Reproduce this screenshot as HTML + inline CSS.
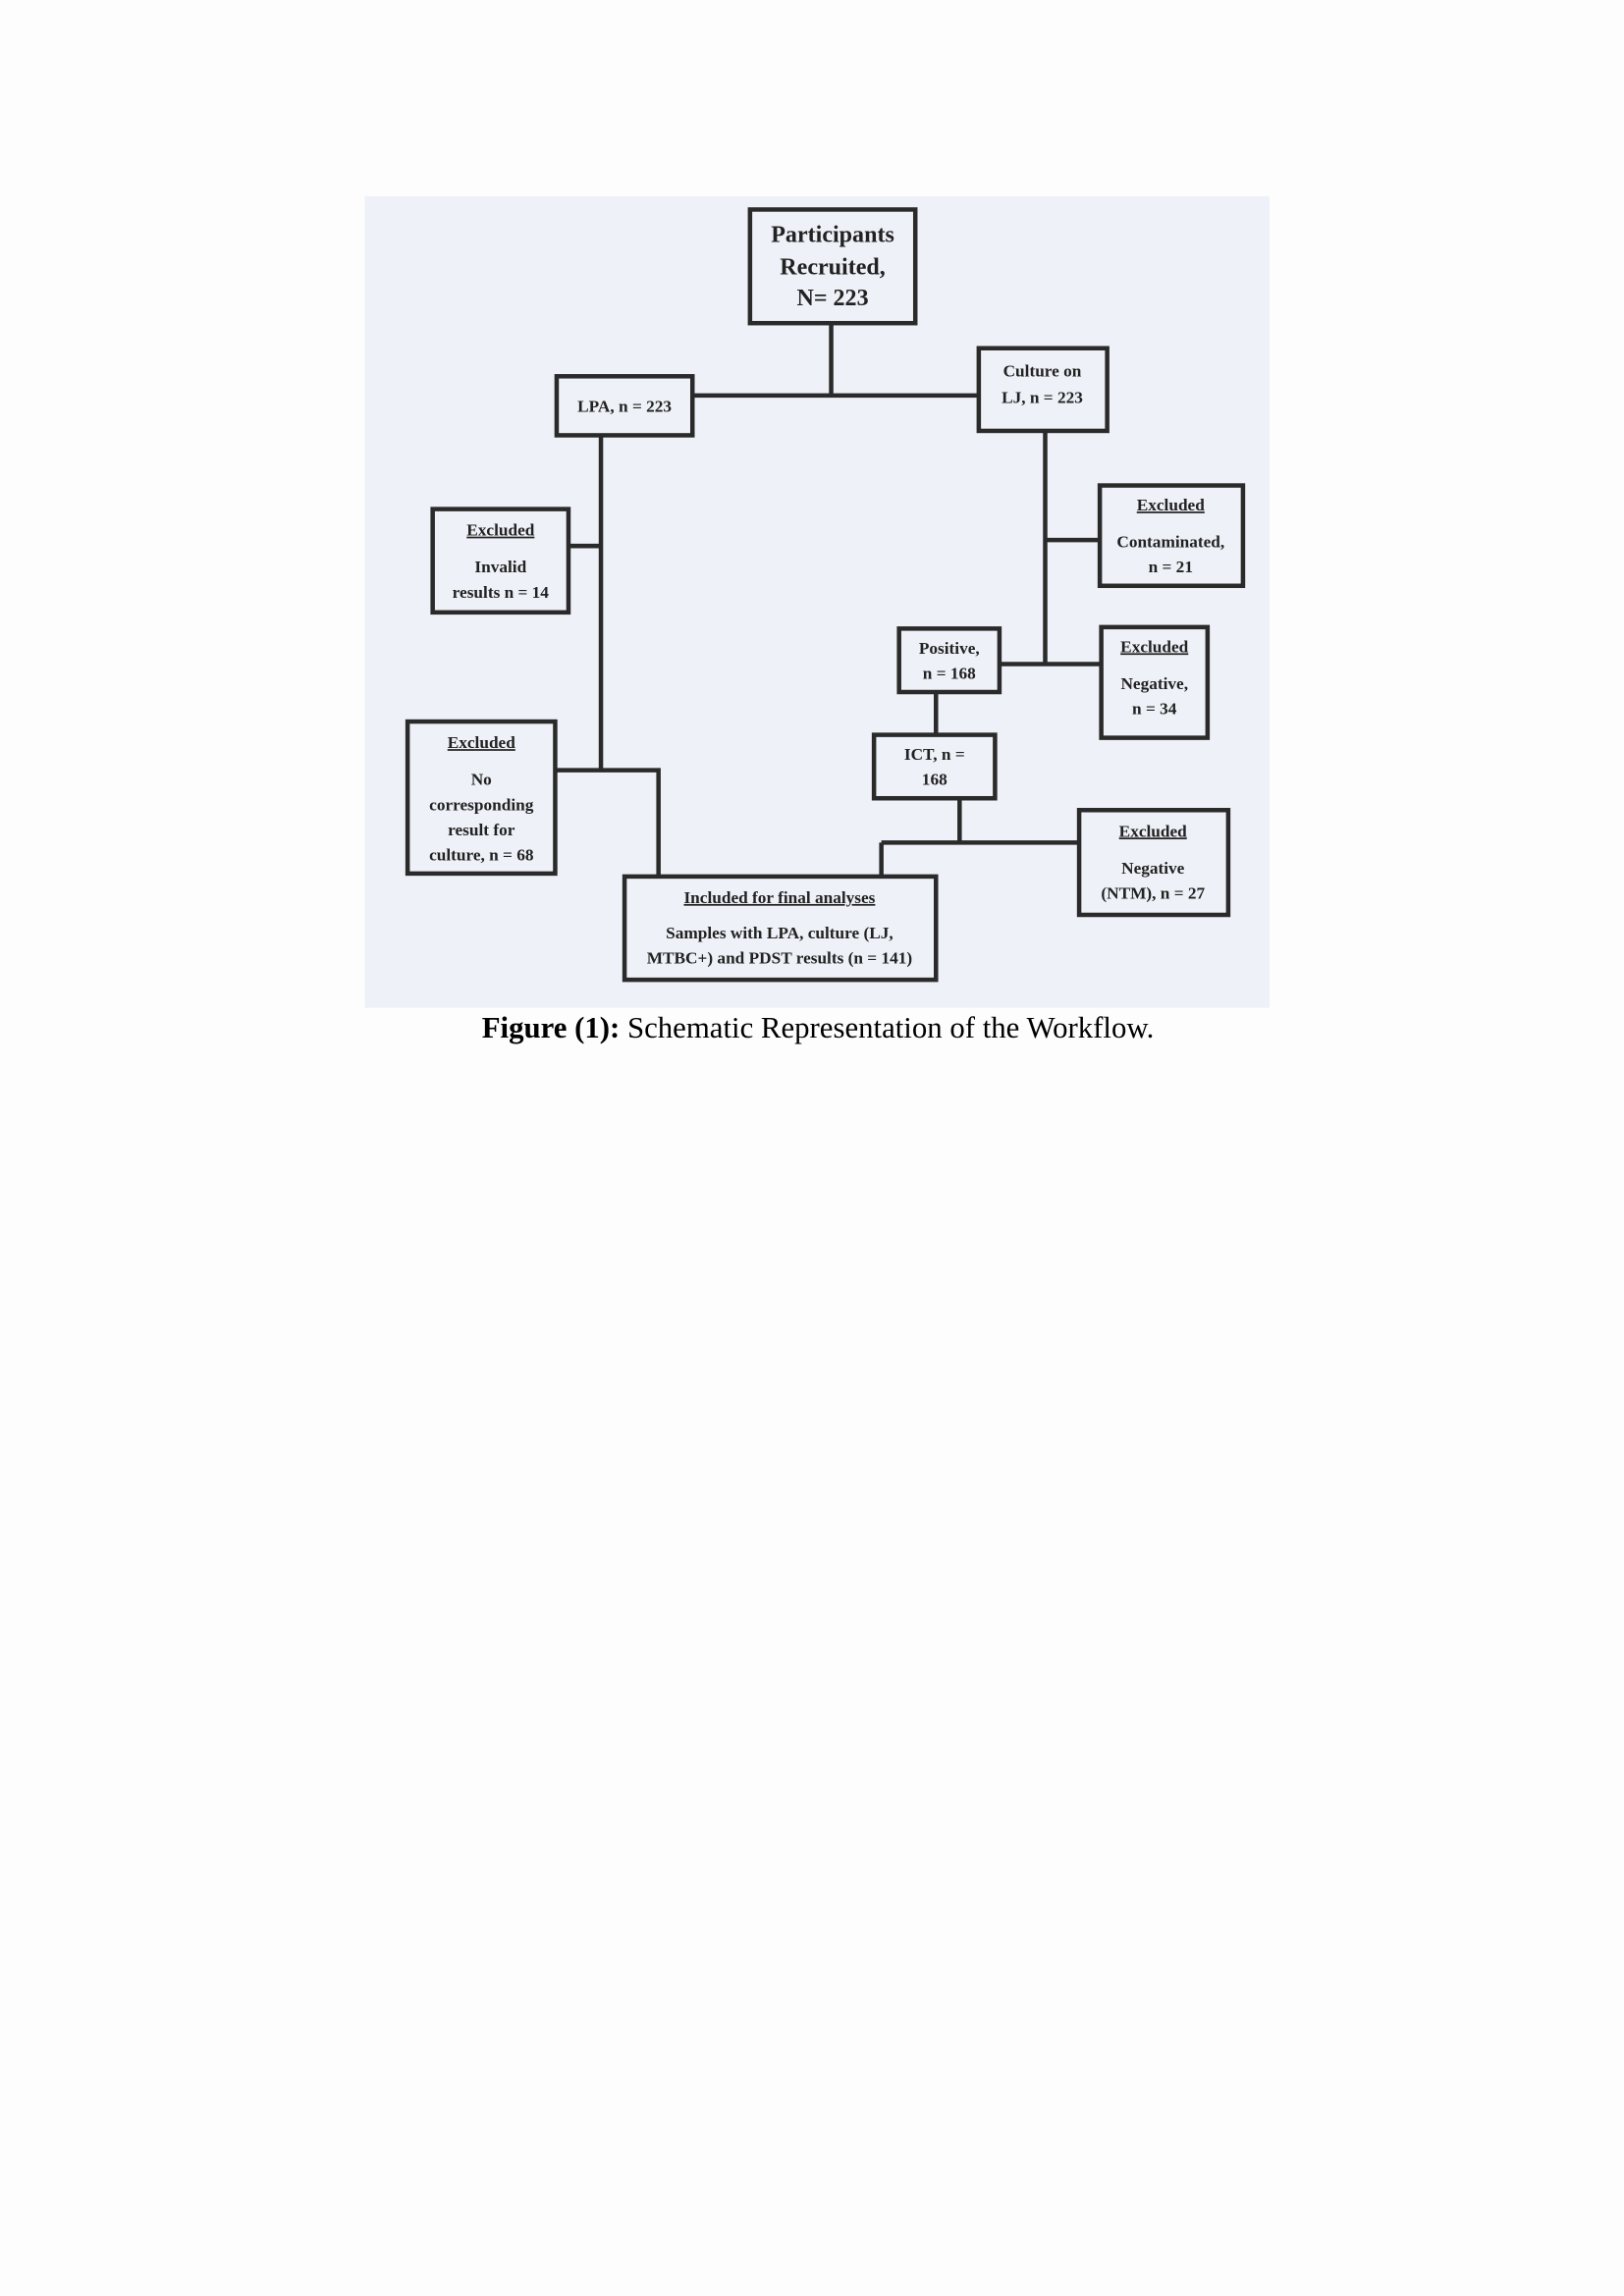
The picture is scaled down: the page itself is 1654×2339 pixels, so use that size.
<!DOCTYPE html>
<html><head><meta charset="utf-8"><style>
html,body{margin:0;padding:0;background:#fdfdfd;}
svg{display:block;}
text{font-family:"Liberation Serif",serif;fill:#222;}
.b{font-weight:bold;font-size:11.5px;}
.big{font-size:16px;}
.u{text-decoration:underline;}
</style></head><body>
<svg width="1654" height="2339" viewBox="0 0 1100 1556" xmlns="http://www.w3.org/2000/svg">
<rect x="0" y="0" width="1100" height="1556" fill="#fdfdfd"/>
<rect x="247" y="133" width="613" height="550" fill="#eef1f7"/>
<g stroke="#2a2a2a" stroke-width="3" fill="none">
<rect x="508" y="142" width="112" height="77"/>
<rect x="377" y="255" width="92" height="40"/>
<rect x="663" y="236" width="87" height="56"/>
<rect x="293" y="345" width="92" height="70"/>
<rect x="276" y="489" width="100" height="103"/>
<rect x="745" y="329" width="97" height="68"/>
<rect x="609" y="426" width="68" height="43"/>
<rect x="746" y="425" width="72" height="75"/>
<rect x="592" y="498" width="82" height="43"/>
<rect x="731" y="549" width="101" height="71"/>
<rect x="423" y="594" width="211" height="70"/>
<path d="M563 219V268M469 268H663M407 295V522M385 370H407M376 522H446V594M708 292V450M708 366H745M677 450H746M634 469V498M650 541V571M597 571H731M597 571V594"/>
</g>
<g text-anchor="middle">
<text class="b big" x="564" y="164">Participants</text>
<text class="b big" x="564" y="186">Recruited,</text>
<text class="b big" x="564" y="207">N= 223</text>
<text class="b" x="423" y="279">LPA, n = 223</text>
<text class="b" x="706" y="255">Culture on</text>
<text class="b" x="706" y="273">LJ, n = 223</text>
<text class="b u" x="339" y="363">Excluded</text>
<text class="b" x="339" y="388">Invalid</text>
<text class="b" x="339" y="405">results n = 14</text>
<text class="b u" x="326" y="507">Excluded</text>
<text class="b" x="326" y="532">No</text>
<text class="b" x="326" y="549">corresponding</text>
<text class="b" x="326" y="566">result for</text>
<text class="b" x="326" y="583">culture, n = 68</text>
<text class="b u" x="793" y="346">Excluded</text>
<text class="b" x="793" y="371">Contaminated,</text>
<text class="b" x="793" y="388">n = 21</text>
<text class="b" x="643" y="443">Positive,</text>
<text class="b" x="643" y="460">n = 168</text>
<text class="b u" x="782" y="442">Excluded</text>
<text class="b" x="782" y="467">Negative,</text>
<text class="b" x="782" y="484">n = 34</text>
<text class="b" x="633" y="515">ICT, n =</text>
<text class="b" x="633" y="532">168</text>
<text class="b u" x="781" y="567">Excluded</text>
<text class="b" x="781" y="592">Negative</text>
<text class="b" x="781" y="609">(NTM), n = 27</text>
<text class="b u" x="528" y="612">Included for final analyses</text>
<text class="b" x="528" y="636">Samples with LPA, culture (LJ,</text>
<text class="b" x="528" y="653">MTBC+) and PDST results (n = 141)</text>
<text x="554" y="703" font-size="20.5" style="fill:#000"><tspan font-weight="bold">Figure (1):</tspan> Schematic Representation of the Workflow.</text>
</g>
</svg>
</body></html>
